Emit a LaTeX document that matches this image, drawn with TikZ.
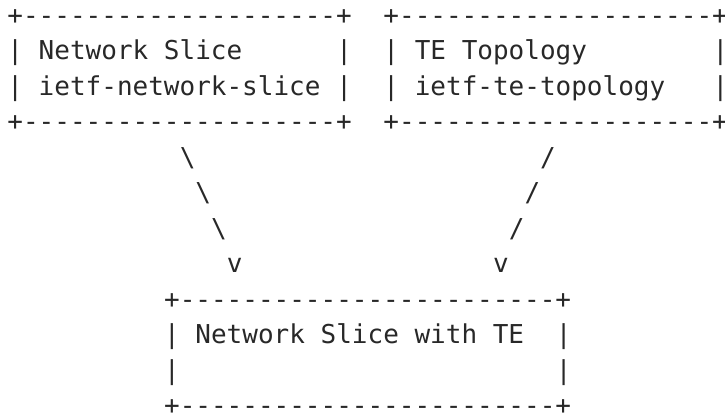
\documentclass[tikz,border=0pt]{standalone}
\usepackage{fontspec}
\setmonofont{DejaVu Sans Mono}
\definecolor{asciigray}{RGB}{40,40,40}

\begin{document}
\begin{tikzpicture}[x=15.67pt, y=-35.45pt,
  ascii/.style={anchor=base west, inner sep=0pt, text=asciigray, font=\ttfamily\fontsize{26}{35}\selectfont}]
\useasboundingbox (-7.2pt,24.5pt) rectangle (717.8pt,-389.5pt);

\node[ascii] (sliceTop) at (0,0) {+--------------------+};
\node[ascii] (sliceL) at (0,1) {|};
\node[ascii] (sliceName) at (2,1) {Network Slice};
\node[ascii] (sliceR) at (21,1) {|};
\node[ascii] (sliceL2) at (0,2) {|};
\node[ascii] (sliceModule) at (2,2) {ietf-network-slice};
\node[ascii] (sliceR2) at (21,2) {|};
\node[ascii] (sliceBot) at (0,3) {+--------------------+};

\node[ascii] (teTop) at (24,0) {+--------------------+};
\node[ascii] (teL) at (24,1) {|};
\node[ascii] (teName) at (26,1) {TE Topology};
\node[ascii] (teR) at (45,1) {|};
\node[ascii] (teL2) at (24,2) {|};
\node[ascii] (teModule) at (26,2) {ietf-te-topology};
\node[ascii] (teR2) at (45,2) {|};
\node[ascii] (teBot) at (24,3) {+--------------------+};

\node[ascii] (leftA) at (11,4) {\textbackslash};
\node[ascii] (leftB) at (12,5) {\textbackslash};
\node[ascii] (leftC) at (13,6) {\textbackslash};
\node[ascii] (leftTip) at (14,7) {v};
\node[ascii] (rightA) at (34,4) {/};
\node[ascii] (rightB) at (33,5) {/};
\node[ascii] (rightC) at (32,6) {/};
\node[ascii] (rightTip) at (31,7) {v};

\node[ascii] (withTop) at (10,8) {+------------------------+};
\node[ascii] (withL) at (10,9) {|};
\node[ascii] (withName) at (12,9) {Network Slice with TE};
\node[ascii] (withR) at (35,9) {|};
\node[ascii] (withL2) at (10,10) {|};
\node[ascii] (withR2) at (35,10) {|};
\node[ascii] (withBot) at (10,11) {+------------------------+};
\end{tikzpicture}
\end{document}
